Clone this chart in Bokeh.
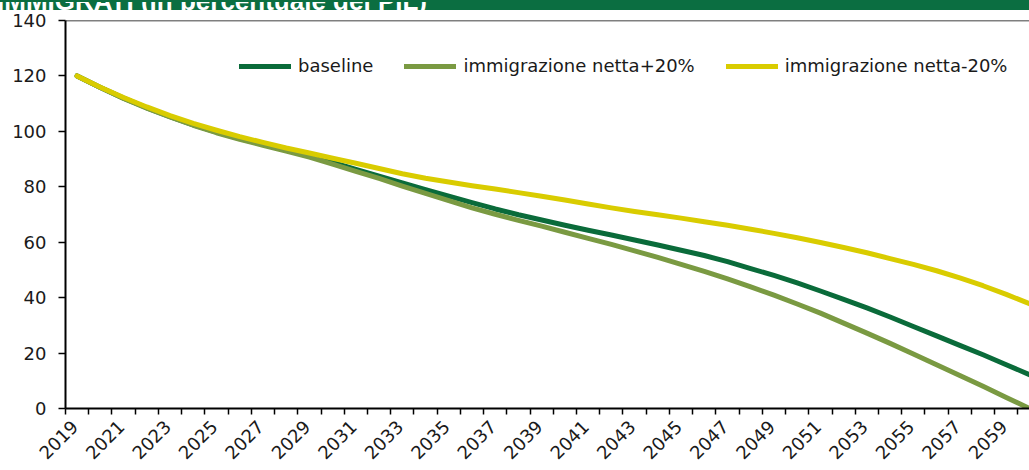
import math
from bokeh.plotting import figure
from bokeh.layouts import column
from bokeh.models import (Range1d, FixedTicker, Legend, LegendItem, Span,
                          Div, ColumnDataSource)
from bokeh.embed import file_html
from bokeh.resources import INLINE

years = [2019, 2020, 2021, 2022, 2023, 2024, 2025, 2026, 2027, 2028,
         2029, 2030, 2031, 2032, 2033, 2034, 2035, 2036, 2037, 2038,
         2039, 2040, 2041, 2042, 2043, 2044, 2045, 2046, 2047, 2048,
         2049, 2050, 2051, 2052, 2053, 2054, 2055, 2056, 2057, 2058,
         2059, 2060]

baseline = [120.0, 115.8, 112.0, 108.5, 105.3, 102.3, 99.7, 97.4, 95.3, 93.2,
            91.1, 88.8, 86.3, 83.8, 81.4, 79.0, 76.6, 74.3, 72.0, 69.9,
            68.0, 66.1, 64.3, 62.6, 60.8, 59.0, 57.1, 55.2, 53.0, 50.5,
            48.0, 45.3, 42.4, 39.4, 36.3, 33.0, 29.6, 26.2, 22.8, 19.4,
            15.8, 12.2]

imm_plus20 = [120.0, 115.8, 111.9, 108.4, 105.2, 102.2, 99.5, 97.1, 95.0, 92.9,
              90.7, 88.2, 85.6, 83.0, 80.2, 77.6, 75.0, 72.4, 70.1, 67.9,
              65.8, 63.6, 61.4, 59.2, 56.9, 54.5, 52.0, 49.5, 46.8, 43.9,
              40.9, 37.7, 34.4, 30.8, 27.2, 23.5, 19.7, 15.8, 11.9, 8.0,
              4.0, 0.0]

imm_minus20 = [120.0, 115.9, 112.2, 108.8, 105.7, 102.9, 100.4, 98.1, 96.0, 94.0,
               92.2, 90.3, 88.5, 86.6, 84.7, 83.1, 81.7, 80.4, 79.2, 77.9,
               76.6, 75.2, 73.8, 72.4, 71.1, 69.9, 68.7, 67.4, 66.1, 64.7,
               63.2, 61.6, 59.9, 58.1, 56.2, 54.1, 52.0, 49.7, 47.1, 44.3,
               41.2, 37.8]

series_names = ["baseline", "immigrazione netta+20%", "immigrazione netta-20%"]
x_tick_labels = [2019, 2021, 2023, 2025, 2027, 2029, 2031, 2033, 2035, 2037,
                 2039, 2041, 2043, 2045, 2047, 2049, 2051, 2053, 2055, 2057, 2059]
y_ticks = [0, 20, 40, 60, 80, 100, 120, 140]
title_text = "IMMIGRATI (in percentuale del PIL)"

GREEN_BAR = "#0B6E41"
C_BASE = "#0A6B3A"
C_PLUS = "#7A9A42"
C_MINUS = "#D9CC00"
FONT = "DejaVu Sans"

# green title strip (the title text is cut by the top edge, as in the original)
header = Div(
    text=('<div style="width:427px;height:10px;overflow:hidden;position:relative;">'
          '<div style="position:absolute;right:0;top:-14px;white-space:nowrap;'
          'font-family:\'Liberation Sans\';font-weight:bold;font-size:26px;'
          'line-height:26px;color:white;">' + title_text + '</div></div>'),
    width=1029, height=10, margin=0,
    styles={"background-color": GREEN_BAR, "overflow": "hidden"})

p = figure(width=1029, height=460, output_backend="svg", toolbar_location=None,
           x_range=Range1d(2018.5, 2060.0), y_range=Range1d(0, 140),
           min_border_left=65, min_border_right=0, min_border_top=10,
           min_border_bottom=62, margin=0)
p.outline_line_color = None
p.grid.visible = False
p.background_fill_color = "white"
p.border_fill_color = "white"

src = ColumnDataSource(dict(x=years, base=baseline, plus=imm_plus20, minus=imm_minus20))
r_base = p.line("x", "base", source=src, line_color=C_BASE, line_width=5,
                line_join="round", line_cap="round")
r_plus = p.line("x", "plus", source=src, line_color=C_PLUS, line_width=5,
                line_join="round", line_cap="round")
r_minus = p.line("x", "minus", source=src, line_color=C_MINUS, line_width=5,
                 line_join="round", line_cap="round")

# top border
p.add_layout(Span(location=140, dimension="width", line_color="black", line_width=1.5))

# x axis: labels at category centres, tick marks between categories
label_shift = 0.1
xa = p.xaxis[0]
xa.ticker = FixedTicker(ticks=[t - label_shift for t in x_tick_labels],
                        minor_ticks=[y - 0.5 for y in years])
xa.major_label_overrides = {t - label_shift: str(t) for t in x_tick_labels}
xa.axis_line_color = "black"
xa.axis_line_width = 2
xa.major_tick_line_color = None
xa.major_tick_out = 6
xa.major_tick_in = 0
xa.minor_tick_line_color = "black"
xa.minor_tick_line_width = 1.5
xa.minor_tick_out = 6
xa.minor_tick_in = 0
xa.major_label_orientation = math.pi / 4
xa.major_label_text_font = FONT
xa.major_label_text_font_size = "18px"
xa.major_label_text_color = "#1a1a1a"
xa.major_label_standoff = 9

# y axis
ya = p.yaxis[0]
ya.ticker = FixedTicker(ticks=y_ticks)
ya.axis_line_color = "black"
ya.axis_line_width = 2
ya.major_tick_line_color = "black"
ya.major_tick_line_width = 1.5
ya.major_tick_out = 7
ya.major_tick_in = 0
ya.minor_tick_line_color = None
ya.major_label_text_font = FONT
ya.major_label_text_font_size = "18px"
ya.major_label_text_color = "#1a1a1a"
ya.major_label_standoff = 12

legend = Legend(items=[LegendItem(label=series_names[0], renderers=[r_base]),
                       LegendItem(label=series_names[1], renderers=[r_plus]),
                       LegendItem(label=series_names[2], renderers=[r_minus])],
                orientation="horizontal", location=(174, 332),
                border_line_color=None, background_fill_alpha=0,
                padding=0, margin=0, spacing=31, glyph_width=52,
                glyph_height=20, label_standoff=7, label_height=20,
                label_text_font=FONT, label_text_font_size="18px",
                label_text_color="#1a1a1a")
p.add_layout(legend, "center")

page = column(header, p, spacing=0, margin=0)

open("out.html", "w").write(file_html(page, INLINE))
